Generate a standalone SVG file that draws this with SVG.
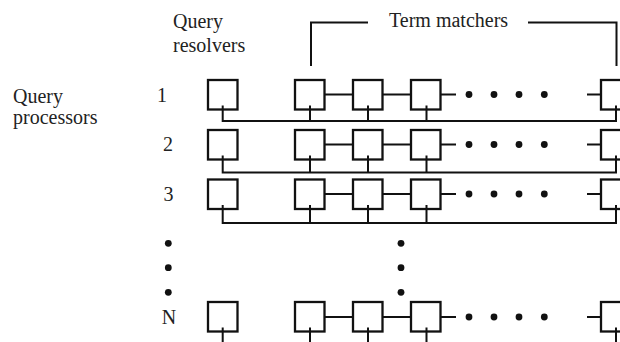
<svg xmlns="http://www.w3.org/2000/svg" width="620" height="342" viewBox="0 0 620 342">
<style>
.box{fill:#fff;stroke:#111;stroke-width:2.3}
.ln{fill:none;stroke:#111;stroke-width:2}
.t{font-family:"Liberation Serif","Times New Roman",serif;font-size:20px;fill:#222}
.dot{fill:#111}
</style>
<rect width="620" height="342" fill="#fff"/>
<g id="labels">
<text class="t" x="173" y="28">Query</text>
<text class="t" x="173" y="52">resolvers</text>
<text class="t" x="389" y="27">Term matchers</text>
<text class="t" x="13" y="103">Query</text>
<text class="t" x="13" y="124">processors</text>
<text class="t" x="162" y="102" text-anchor="middle">1</text>
<text class="t" x="168" y="150.5" text-anchor="middle">2</text>
<text class="t" x="168.5" y="200.5" text-anchor="middle">3</text>
<text class="t" x="169" y="323.5" text-anchor="middle">N</text>
</g>
<g id="bracket">
<path class="ln" d="M311,66 V22.5 H368 M528,22.5 H616.5 V66"/>
</g>
<g id="row1">
<rect id="r1-resolver" class="box" x="208" y="80" width="29.5" height="29.5"/>
<rect id="r1-tm1" class="box" x="295" y="80" width="29.5" height="29.5"/>
<rect id="r1-tm2" class="box" x="353" y="80" width="29.5" height="29.5"/>
<rect id="r1-tm3" class="box" x="411" y="80" width="29.5" height="29.5"/>
<rect id="r1-tmn" class="box" x="601" y="80" width="29.5" height="29.5"/>
</g>
<g id="row2">
<rect id="r2-resolver" class="box" x="208" y="130" width="29.5" height="29.5"/>
<rect id="r2-tm1" class="box" x="295" y="130" width="29.5" height="29.5"/>
<rect id="r2-tm2" class="box" x="353" y="130" width="29.5" height="29.5"/>
<rect id="r2-tm3" class="box" x="411" y="130" width="29.5" height="29.5"/>
<rect id="r2-tmn" class="box" x="601" y="130" width="29.5" height="29.5"/>
</g>
<g id="row3">
<rect id="r3-resolver" class="box" x="208" y="179.5" width="29.5" height="29.5"/>
<rect id="r3-tm1" class="box" x="295" y="179.5" width="29.5" height="29.5"/>
<rect id="r3-tm2" class="box" x="353" y="179.5" width="29.5" height="29.5"/>
<rect id="r3-tm3" class="box" x="411" y="179.5" width="29.5" height="29.5"/>
<rect id="r3-tmn" class="box" x="601" y="179.5" width="29.5" height="29.5"/>
</g>
<g id="rowN">
<rect id="rN-resolver" class="box" x="208" y="302" width="29.5" height="29.5"/>
<rect id="rN-tm1" class="box" x="295" y="302" width="29.5" height="29.5"/>
<rect id="rN-tm2" class="box" x="353" y="302" width="29.5" height="29.5"/>
<rect id="rN-tm3" class="box" x="411" y="302" width="29.5" height="29.5"/>
<rect id="rN-tmn" class="box" x="601" y="302" width="29.5" height="29.5"/>
</g>
<g id="connectors">
<path class="ln" d="M324,94.5 H353 M382.5,94.5 H411 M440.5,94.5 H456 M587,94.5 H601"/>
<path class="ln" d="M222.7,105.5 V121 H616 V105.5 M310,105.5 V121 M368,105.5 V121 M426.5,105.5 V121"/>
<path class="ln" d="M324,144.5 H353 M382.5,144.5 H411 M440.5,144.5 H456 M587,144.5 H601"/>
<path class="ln" d="M222.7,155.5 V172.5 H616 V155.5 M310,155.5 V172.5 M368,155.5 V172.5 M426.5,155.5 V172.5"/>
<path class="ln" d="M324,194 H353 M382.5,194 H411 M440.5,194 H456 M587,194 H601"/>
<path class="ln" d="M222.7,205 V223 H616 V205 M310,205 V223 M368,205 V223 M426.5,205 V223"/>
<path class="ln" d="M324,317 H353 M382.5,317 H411 M440.5,317 H456 M587,317 H601"/>
<path class="ln" d="M222.7,327.5 V345 M310,327.5 V345 M368,327.5 V345 M426.5,327.5 V345 M616,327.5 V345"/>
</g>
<g id="ellipsis">
<circle class="dot" cx="469" cy="94.5" r="3.4"/><circle class="dot" cx="494" cy="94.5" r="3.4"/><circle class="dot" cx="519" cy="94.5" r="3.4"/><circle class="dot" cx="544.3" cy="94.5" r="3.4"/>
<circle class="dot" cx="469" cy="144.5" r="3.4"/><circle class="dot" cx="494" cy="144.5" r="3.4"/><circle class="dot" cx="519" cy="144.5" r="3.4"/><circle class="dot" cx="544.3" cy="144.5" r="3.4"/>
<circle class="dot" cx="469" cy="194" r="3.4"/><circle class="dot" cx="494" cy="194" r="3.4"/><circle class="dot" cx="519" cy="194" r="3.4"/><circle class="dot" cx="544.3" cy="194" r="3.4"/>
<circle class="dot" cx="469" cy="317" r="3.4"/><circle class="dot" cx="494" cy="317" r="3.4"/><circle class="dot" cx="519" cy="317" r="3.4"/><circle class="dot" cx="544.3" cy="317" r="3.4"/>
<circle class="dot" cx="168.3" cy="243.3" r="3.4"/><circle class="dot" cx="168.3" cy="267.7" r="3.4"/><circle class="dot" cx="168.3" cy="292.3" r="3.4"/>
<circle class="dot" cx="401" cy="243.3" r="3.4"/><circle class="dot" cx="401" cy="267.7" r="3.4"/><circle class="dot" cx="401" cy="292.3" r="3.4"/>
</g>
</svg>
